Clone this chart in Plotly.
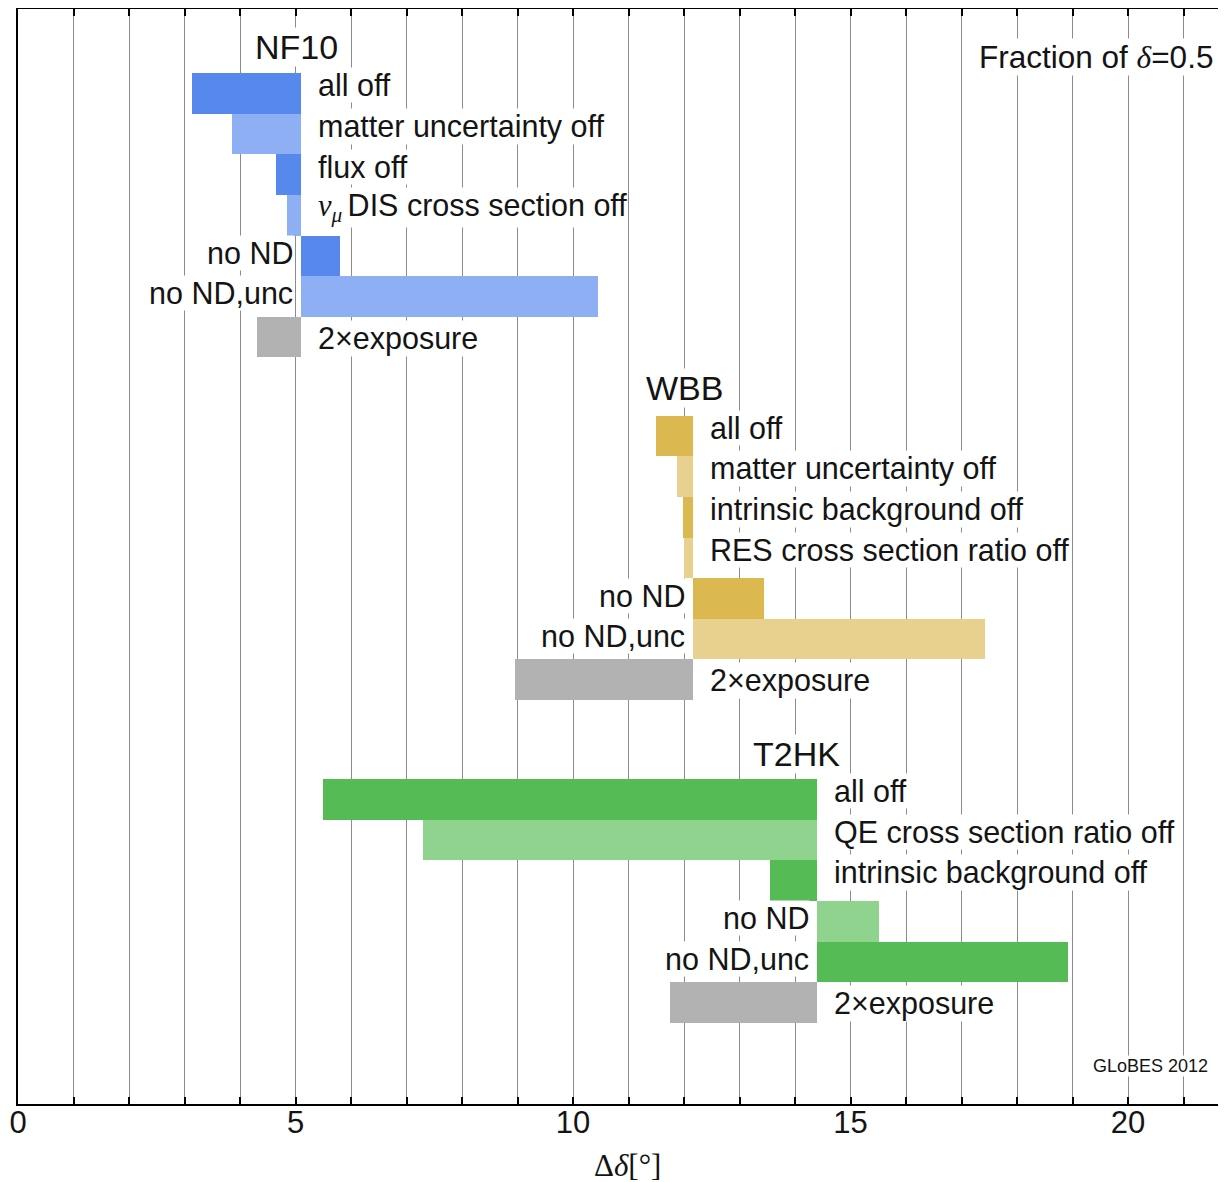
import plotly.graph_objects as go

# ---------------- data ----------------
x_ticks = list(range(0, 22))
x_tick_labels = [str(v) if v % 5 == 0 else "" for v in x_ticks]

nf10_labels = ["all off", "matter uncertainty off", "flux off",
               "<span style='font-family:Liberation Serif'><i>ν</i><sub><i>μ</i> </sub></span>DIS cross section off",
               "no ND", "no ND,unc", "2×exposure"]
nf10_values = [3.14, 3.85, 4.64, 4.85, 5.80, 10.45, 4.30]
nf10_reference = 5.10
nf10_shades = ["dark", "light", "dark", "light", "dark", "light", "gray"]

wbb_labels = ["all off", "matter uncertainty off", "intrinsic background off",
              "RES cross section ratio off", "no ND", "no ND,unc", "2×exposure"]
wbb_values = [11.50, 11.88, 11.99, 12.00, 13.45, 17.42, 8.96]
wbb_reference = 12.17
wbb_shades = ["dark", "light", "dark", "light", "dark", "light", "gray"]

t2hk_labels = ["all off", "QE cross section ratio off", "intrinsic background off",
               "no ND", "no ND,unc", "2×exposure"]
t2hk_values = [5.49, 7.29, 13.55, 15.52, 18.91, 11.74]
t2hk_reference = 14.39
t2hk_shades = ["dark", "light", "dark", "light", "dark", "gray"]

# ---------------- styling / layout ----------------
palettes = {
    "NF10": {"dark": "#5788EB", "light": "#8FAFF5", "gray": "#B2B2B2"},
    "WBB": {"dark": "#DCB950", "light": "#E8D08E", "gray": "#B2B2B2"},
    "T2HK": {"dark": "#55BB55", "light": "#8FD38F", "gray": "#B2B2B2"},
}
groups = [
    dict(name="NF10", labels=nf10_labels, values=nf10_values, ref=nf10_reference,
         shades=nf10_shades, top=1.58, title_x=5.02, title_y=0.94),
    dict(name="WBB", labels=wbb_labels, values=wbb_values, ref=wbb_reference,
         shades=wbb_shades, top=10.02, title_x=12.01, title_y=9.33),
    dict(name="T2HK", labels=t2hk_labels, values=t2hk_values, ref=t2hk_reference,
         shades=t2hk_shades, top=18.97, title_x=14.03, title_y=18.35),
]

# the page body adds an 8px offset, so the figure is sized to fill the window
W, H = 1218, 1174
ML, MR, MT, MB = 10, 0, 1, 78
ROW_PX = 40.6
PLOT_W = W - ML - MR
PLOT_H = H - MT - MB
Y_MAX = PLOT_H / ROW_PX
X_MAX = PLOT_W / 55.5

TEXT = "#141414"
SANS = "Liberation Sans, Arial, sans-serif"
SERIF = "Liberation Serif, Times New Roman, serif"
HALO = dict(bgcolor="white", borderpad=0)

fig = go.Figure()
annotations = []

for g in groups:
    n = len(g["values"])
    centers = [g["top"] + 0.5 + i for i in range(n)]
    colors = [palettes[g["name"]][s] for s in g["shades"]]
    fig.add_trace(go.Bar(
        orientation="h",
        y=centers,
        base=[g["ref"]] * n,
        x=[v - g["ref"] for v in g["values"]],
        width=[1.0] * n,
        marker=dict(color=colors, line=dict(width=0)),
        hoverinfo="skip",
        showlegend=False,
    ))
    for lab, val, yc, shade in zip(g["labels"], g["values"], centers, g["shades"]):
        if val < g["ref"]:
            annotations.append(dict(x=g["ref"], y=yc, text=lab, showarrow=False,
                                    xanchor="left", yanchor="middle", xshift=16,
                                    yshift=(-1 if shade == "gray" else 8),
                                    font=dict(family=SANS, size=30.5, color=TEXT), **HALO))
        else:
            annotations.append(dict(x=g["ref"], y=yc, text=lab, showarrow=False,
                                    xanchor="right", yanchor="middle", xshift=-7, yshift=3,
                                    font=dict(family=SANS, size=30.5, color=TEXT), **HALO))
    annotations.append(dict(x=g["title_x"], y=g["title_y"], text=g["name"], showarrow=False,
                            xanchor="center", yanchor="middle",
                            font=dict(family=SANS, size=34, color=TEXT), **HALO))

annotations.append(dict(x=(1214 - 18) / 55.5, y=1.18,
                        text="Fraction of <span style='font-family:Liberation Serif'><i>δ</i></span>=0.5",
                        showarrow=False, xanchor="right", yanchor="middle",
                        font=dict(family=SANS, size=31.5, color=TEXT), **HALO))
annotations.append(dict(x=(1209 - 18) / 55.5, y=26.03, text="GLoBES 2012", showarrow=False,
                        xanchor="right", yanchor="middle",
                        font=dict(family=SANS, size=18, color=TEXT), **HALO))
# x-axis title
annotations.append(dict(xref="paper", yref="paper", x=(627 - 8 - ML) / PLOT_W, y=-61 / PLOT_H,
                        text="Δ<i>δ</i>[°]", showarrow=False, xanchor="center", yanchor="middle",
                        font=dict(family=SERIF, size=31, color=TEXT)))

fig.update_layout(
    width=W, height=H,
    margin=dict(l=ML, r=MR, t=MT, b=MB, pad=0, autoexpand=False),
    plot_bgcolor="white", paper_bgcolor="white",
    barmode="overlay",
    bargap=0,
    annotations=annotations,
    showlegend=False,
    xaxis=dict(
        range=[0, X_MAX],
        tickmode="array", tickvals=x_ticks, ticktext=x_tick_labels,
        ticks="inside", ticklen=7, tickwidth=1.5, tickcolor="black",
        showline=True, linecolor="black", linewidth=2, mirror="ticks",
        showgrid=True, gridcolor="#8C8C8C", gridwidth=1.3,
        zeroline=False, automargin=False,
        tickfont=dict(family=SANS, size=31, color=TEXT),
        ticklabelstandoff=-10,
    ),
    yaxis=dict(
        range=[Y_MAX, 0],
        showline=True, linecolor="black", linewidth=2, mirror=False,
        showgrid=False, zeroline=False, showticklabels=False, ticks="",
        automargin=False,
    ),
)

fig.write_html("out.html")
